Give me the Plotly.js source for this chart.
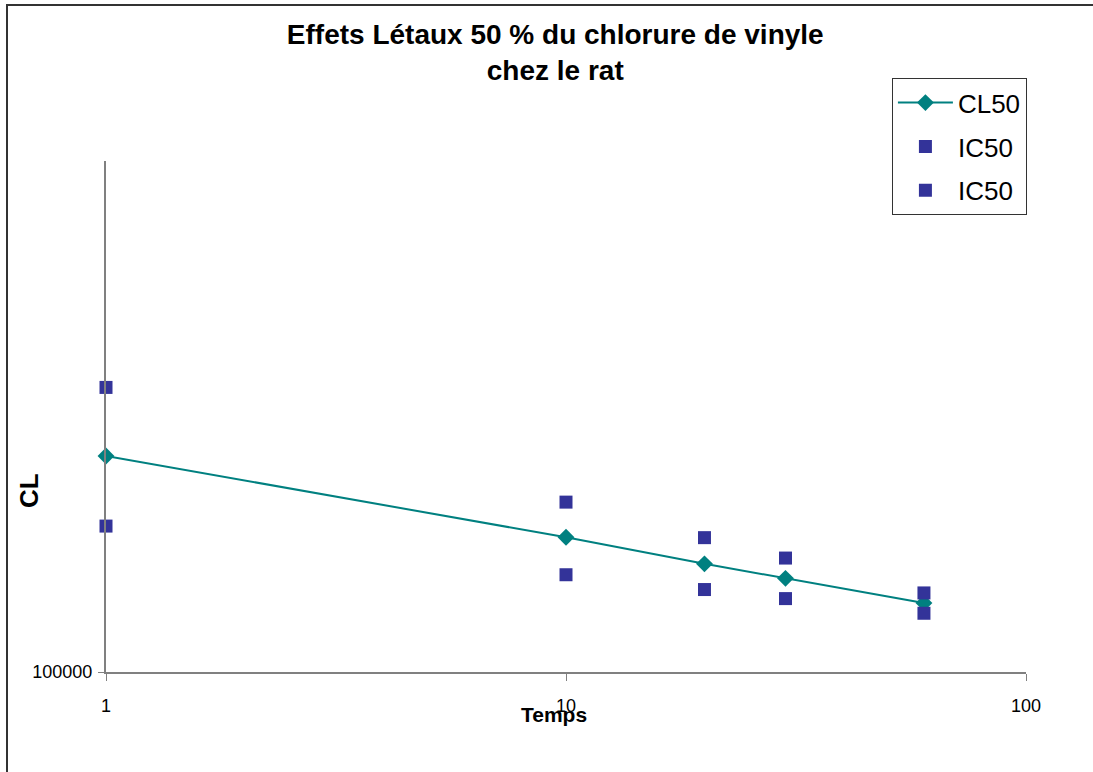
<!DOCTYPE html>
<html>
<head>
<meta charset="utf-8">
<script src="https://cdn.plot.ly/plotly-3.0.1.min.js"></script>
<style>
  html, body { margin: 0; padding: 0; background: #fff; overflow: hidden; }
  #frame { position: absolute; left: 6px; top: 4px; width: 1200px; height: 900px;
           border-top: 2px solid #333; border-left: 2px solid #333; }
  #chart { position: absolute; left: 0; top: 0; width: 1093px; height: 772px; }
</style>
</head>
<body>
<div id="frame"></div>
<div id="chart"></div>
<script>
const temps = [1, 10, 20, 30, 60];
const cl50 = [264700, 183500, 162800, 152500, 136500];
const ic50Upper = [360500, 215000, 183200, 167100, 142800];
const ic50Lower = [193000, 155000, 145000, 139200, 130300];
const xTicks = [1, 10, 100];
const yTicks = [100000];
const yTickLabels = ['100000'];

const font = 'Arial, "Liberation Sans", sans-serif';

const traces = [
  { x: temps, y: cl50, name: 'CL50', legendgroup: 'a', type: 'scatter', mode: 'lines+markers',
    cliponaxis: false,
    line: { color: '#008080', width: 2 },
    marker: { symbol: 'diamond', size: 13, color: '#008080' } },
  { x: temps, y: ic50Upper, name: 'IC50', legendgroup: 'b', type: 'scatter', mode: 'markers',
    cliponaxis: false,
    marker: { symbol: 'square', size: 13, color: '#333399' } },
  { x: temps, y: ic50Lower, name: 'IC50', legendgroup: 'c', type: 'scatter', mode: 'markers',
    cliponaxis: false,
    marker: { symbol: 'square', size: 13, color: '#333399' } }
];

const layout = {
  width: 1093, height: 772,
  paper_bgcolor: 'rgba(0,0,0,0)', plot_bgcolor: 'rgba(0,0,0,0)',
  margin: { l: 106, r: 67, t: 161, b: 100 },
  font: { family: font, color: '#000' },
  title: { text: '<b>Effets Létaux 50 % du chlorure de vinyle<br>chez le rat</b>',
           font: { size: 28, family: font, color: '#000' },
           x: 0.508, xanchor: 'center', y: 0.943, yanchor: 'top' },
  showlegend: true,
  legend: { x: 1.001, xanchor: 'right', y: 1.162, yanchor: 'top',
            bgcolor: '#fff', bordercolor: '#333', borderwidth: 1,
            font: { size: 26, family: font, color: '#000' },
            tracegroupgap: 7, itemwidth: 55 },
  xaxis: { type: 'log', range: [0, 2], tickvals: xTicks, ticktext: xTicks.map(String),
           showgrid: false, zeroline: false, showline: true, linecolor: '#808080', linewidth: 2,
           ticks: 'outside', ticklen: 7, tickcolor: '#808080', tickwidth: 1,
           ticklabelstandoff: 9,
           tickfont: { size: 18, family: font, color: '#000' } },
  yaxis: { type: 'log', range: [5, 6], tickvals: yTicks, ticktext: yTickLabels,
           showgrid: false, zeroline: false, showline: true, linecolor: '#808080', linewidth: 2,
           ticks: 'outside', ticklen: 6, tickcolor: '#808080', tickwidth: 1,
           ticklabelstandoff: 2,
           tickfont: { size: 18, family: font, color: '#000' } },
  annotations: [
    { text: '<b>Temps</b>', xref: 'paper', yref: 'paper', x: 0.487, y: -0.084,
      xanchor: 'center', yanchor: 'middle', showarrow: false,
      font: { size: 21, family: font, color: '#000' } },
    { text: '<b>CL</b>', xref: 'paper', yref: 'paper', x: -0.0837, y: 0.356,
      xanchor: 'center', yanchor: 'middle', textangle: -90, showarrow: false,
      font: { size: 26, family: font, color: '#000' } }
  ]
};

Plotly.newPlot('chart', traces, layout, { staticPlot: true, displayModeBar: false });
</script>
</body>
</html>
